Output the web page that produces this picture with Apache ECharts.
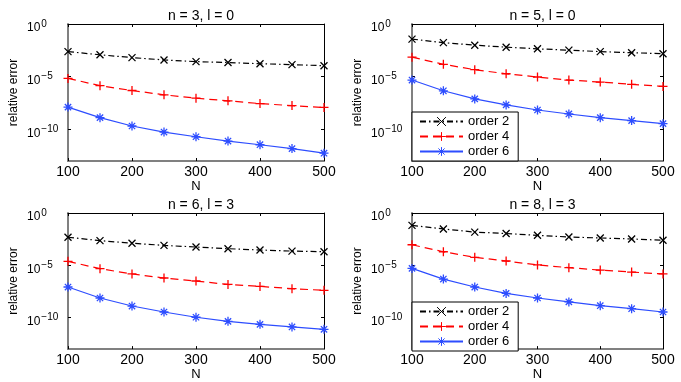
<!DOCTYPE html>
<html>
<head>
<meta charset="utf-8">
<script src="https://cdn.jsdelivr.net/npm/echarts@6/dist/echarts.min.js"></script>
<style>html,body{margin:0;padding:0;background:#fff}#c{width:681px;height:382px}</style>
</head>
<body>
<div id="c"></div>
<script>
// ---- data ----
const N = [100, 150, 200, 250, 300, 350, 400, 450, 500];
const seriesNames = ['order 2', 'order 4', 'order 6'];
const titles = ['n = 3, l = 0', 'n = 5, l = 0', 'n = 6, l = 3', 'n = 8, l = 3'];
const yTickValues = [1, 1e-5, 1e-10];
const xTickValues = [100, 200, 300, 400, 500];

const p1_order2 = [2.4e-3, 1.2e-3, 6.5e-4, 3.9e-4, 2.7e-4, 2.2e-4, 1.7e-4, 1.4e-4, 1.1e-4];
const p1_order4 = [6.9e-6, 1.4e-6, 4.9e-7, 1.9e-7, 9.1e-8, 5.1e-8, 2.8e-8, 1.8e-8, 1.2e-8];
const p1_order6 = [1.3e-8, 1.3e-9, 2.1e-10, 5.6e-11, 2.0e-11, 7.8e-12, 3.5e-12, 1.5e-12, 5.5e-13];

const p2_order2 = [3.7e-2, 1.7e-2, 9.8e-3, 6.3e-3, 4.4e-3, 3.3e-3, 2.4e-3, 1.9e-3, 1.5e-3];
const p2_order4 = [7.1e-4, 1.5e-4, 4.6e-5, 1.9e-5, 9.3e-6, 4.8e-6, 3.1e-6, 1.9e-6, 1.2e-6];
const p2_order6 = [4.8e-6, 4.6e-7, 7.8e-8, 2.1e-8, 6.9e-9, 2.9e-9, 1.3e-9, 6.8e-10, 3.5e-10];

const p3_order2 = [4.8e-3, 2.3e-3, 1.3e-3, 8.1e-4, 5.6e-4, 3.9e-4, 2.9e-4, 2.3e-4, 2.0e-4];
const p3_order4 = [2.4e-5, 4.8e-6, 1.5e-6, 6.2e-7, 3.2e-7, 1.5e-7, 9.8e-8, 5.9e-8, 4.1e-8];
const p3_order6 = [8.5e-8, 7.6e-9, 1.3e-9, 3.5e-10, 1.1e-10, 4.5e-11, 2.3e-11, 1.3e-11, 7.8e-12];

const p4_order2 = [6.6e-2, 3.0e-2, 1.5e-2, 1.1e-2, 7.4e-3, 5.1e-3, 4.1e-3, 3.3e-3, 2.5e-3];
const p4_order4 = [9.3e-4, 2.0e-4, 5.8e-5, 2.6e-5, 1.1e-5, 6.0e-6, 3.5e-6, 2.3e-6, 1.5e-6];
const p4_order6 = [5.1e-6, 4.9e-7, 8.5e-8, 2.1e-8, 7.6e-9, 3.2e-9, 1.4e-9, 7.2e-10, 3.5e-10];

const panels = [
  [p1_order2, p1_order4, p1_order6],
  [p2_order2, p2_order4, p2_order6],
  [p3_order2, p3_order4, p3_order6],
  [p4_order2, p4_order4, p4_order6]
];

// ---- layout / style ----
const FONT = 'Liberation Sans, Arial, Helvetica, sans-serif';
const gridPos = [
  {left: 68, top: 24, width: 256, height: 137},
  {left: 412, top: 24, width: 251, height: 137},
  {left: 68, top: 213, width: 256, height: 138},
  {left: 412, top: 213, width: 251, height: 138}
];
const styles = [
  {color: '#000000', dash: [6, 3, 1.5, 3], symbol: 'path://M0,0L10,10M0,10L10,0', size: 7},
  {color: '#ff0000', dash: [8, 5], symbol: 'path://M5,0L5,10M0,5L10,5', size: 9},
  {color: '#2d4dff', dash: 'solid', symbol: 'path://M5,0L5,10M0,5L10,5M1.5,1.5L8.5,8.5M8.5,1.5L1.5,8.5', size: 9}
];

function yFmt(v) {
  const e = Math.round(Math.log10(v));
  return '{b|10}{s|' + (e < 0 ? '\u2212' + (-e) : String(e)) + '}';
}

const grid = [], xAxis = [], yAxis = [], series = [], title = [], legend = [];
gridPos.forEach((g, i) => {
  grid.push(Object.assign({}, g));
  title.push({
    text: titles[i], left: g.left + g.width / 2, top: g.top - 20, textAlign: 'center',
    textStyle: {fontFamily: FONT, fontSize: 14, fontWeight: 'normal', color: '#000'}
  });
  xAxis.push({
    type: 'value', gridIndex: i, min: 100, max: 500, interval: 100,
    axisLine: {show: true, lineStyle: {color: '#808080', width: 2}},
    axisTick: {show: true, inside: true, length: 3, lineStyle: {color: '#000'}},
    axisLabel: {color: '#000', fontFamily: FONT, fontSize: 14, margin: 4,
      customValues: xTickValues},
    splitLine: {show: false},
    name: 'N', nameLocation: 'middle', nameGap: 18,
    nameTextStyle: {fontFamily: FONT, fontSize: 13, color: '#000'}
  });
  xAxis.push({
    type: 'value', gridIndex: i, position: 'top', min: 100, max: 500, interval: 100,
    axisLine: {show: true, lineStyle: {color: '#000', width: 1}},
    axisTick: {show: true, inside: true, length: 3, lineStyle: {color: '#000'}},
    axisLabel: {show: false}, splitLine: {show: false}
  });
  yAxis.push({
    type: 'log', logBase: 10, gridIndex: i, min: 1e-13, max: 1,
    axisLine: {show: true, lineStyle: {color: '#808080', width: 2}},
    axisTick: {show: true, inside: true, length: 3, lineStyle: {color: '#000'}, customValues: yTickValues},
    axisLabel: {color: '#000', fontFamily: FONT, fontSize: 12, margin: 41, align: 'left',
      padding: [5, 0, 0, 0],
      customValues: yTickValues, formatter: yFmt,
      rich: {
        b: {fontFamily: FONT, fontSize: 12, color: '#000', verticalAlign: 'bottom'},
        s: {fontFamily: FONT, fontSize: 10, color: '#000', verticalAlign: 'bottom', padding: [0, 0, 5, 1]}
      }},
    splitLine: {show: false}, minorTick: {show: false},
    name: 'relative error', nameLocation: 'middle', nameGap: 48,
    nameTextStyle: {fontFamily: FONT, fontSize: 12, color: '#000'}
  });
  yAxis.push({
    type: 'log', logBase: 10, gridIndex: i, position: 'right', min: 1e-13, max: 1,
    axisLine: {show: true, lineStyle: {color: '#000', width: 1}},
    axisTick: {show: true, inside: true, length: 3, lineStyle: {color: '#000'}, customValues: yTickValues},
    axisLabel: {show: false}, splitLine: {show: false}
  });
  panels[i].forEach((vals, k) => {
    const st = styles[k];
    series.push({
      type: 'line', name: seriesNames[k], xAxisIndex: 2 * i, yAxisIndex: 2 * i,
      data: N.map((n, j) => [n, vals[j]]),
      symbol: st.symbol, symbolSize: st.size, showSymbol: true,
      lineStyle: {color: st.color, width: 1.2, type: st.dash},
      itemStyle: {color: st.color, borderColor: st.color, borderWidth: 1.3},
      animation: false, silent: true
    });
  });
});

[1, 3].forEach(i => {
  legend.push({
    left: gridPos[i].left, top: i === 1 ? 112 : 302, orient: 'vertical',
    data: seriesNames, itemWidth: 43, itemHeight: 11, itemGap: 2,
    padding: [3, 9, 3, 7], borderColor: '#000', borderWidth: 1, backgroundColor: '#fff',
    itemStyle: {borderWidth: 1},
    textStyle: {fontFamily: FONT, fontSize: 13, color: '#000'}, selectedMode: false
  });
});

const chart = echarts.init(document.getElementById('c'), null, {renderer: 'canvas'});
chart.setOption({animation: false, backgroundColor: '#fff', title, grid, xAxis, yAxis, legend, series});
</script>
</body>
</html>
